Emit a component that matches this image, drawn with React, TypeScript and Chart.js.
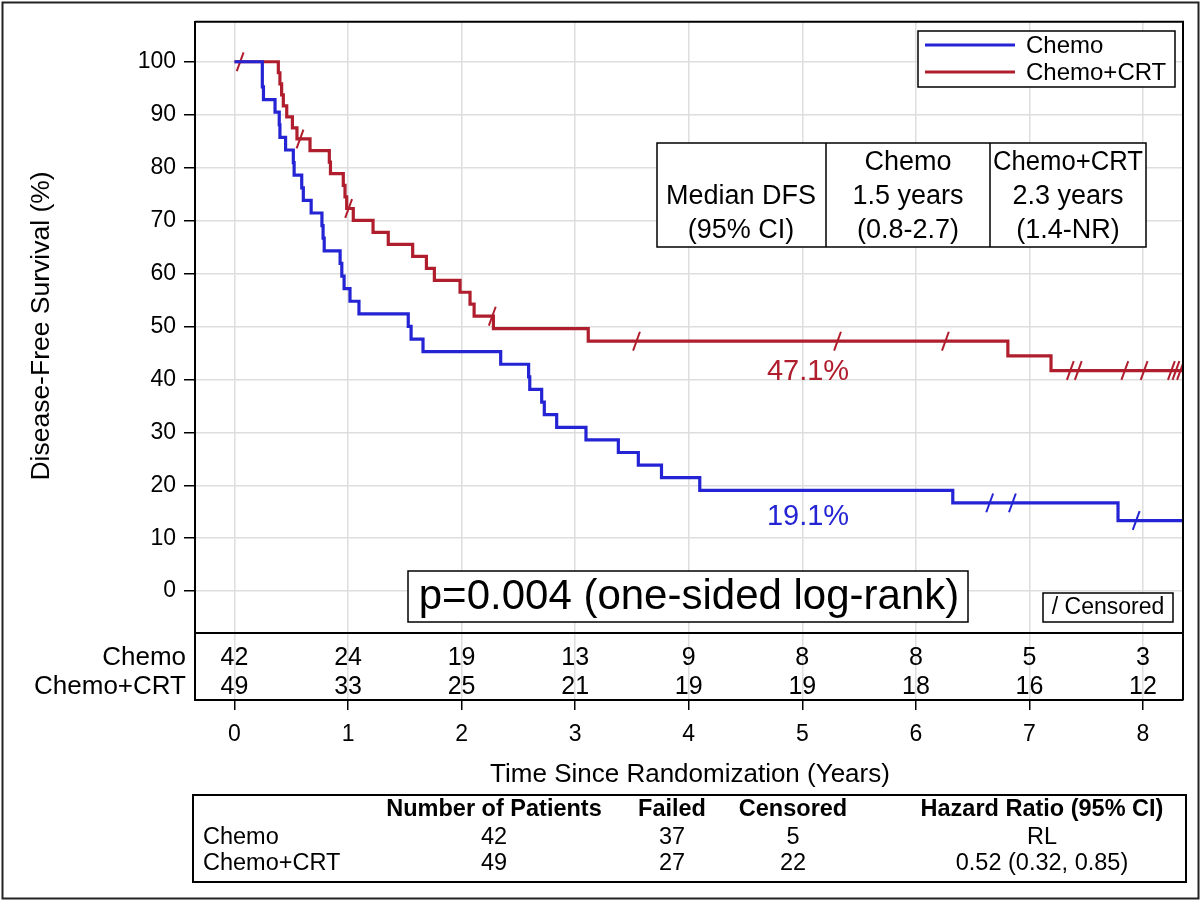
import React, { useEffect, useRef } from "react";
import { Chart, registerables } from "chart.js";

Chart.register(...registerables);

const FONT = "'Liberation Sans', Arial, Helvetica, sans-serif";
const BLUE = "#2424d4";
const RED = "#b01e2e";

// ---- Kaplan-Meier step data (time in years, survival %) ----
const chemoTimes = [0, 0.245, 0.255, 0.357, 0.394, 0.4, 0.45, 0.518, 0.525, 0.592, 0.606, 0.675, 0.77, 0.78, 0.79, 0.93, 0.945, 0.965, 1.017, 1.096, 1.53, 1.555, 1.66, 2.344, 2.59, 2.6, 2.705, 2.728, 2.837, 3.095, 3.38, 3.556, 3.76, 4.097, 6.325, 7.78, 8.35];
const chemoSurv = [100, 95.24, 92.86, 90.48, 88.1, 85.71, 83.33, 80.95, 78.57, 76.19, 73.81, 71.43, 69.05, 66.67, 64.29, 61.9, 59.52, 57.14, 54.76, 52.38, 50.0, 47.62, 45.24, 42.86, 40.48, 38.1, 35.71, 33.33, 30.95, 28.57, 26.19, 23.81, 21.43, 19.05, 16.67, 13.33, 13.33];
const chemoCensor = [6.65, 6.85, 7.94];

const crtTimes = [0, 0.386, 0.4, 0.415, 0.43, 0.46, 0.51, 0.55, 0.665, 0.835, 0.845, 0.958, 0.973, 0.988, 1.046, 1.22, 1.354, 1.569, 1.69, 1.76, 1.986, 2.074, 2.11, 2.28, 3.115, 6.81, 7.19, 8.35];
const crtSurv = [100, 97.92, 95.83, 93.75, 91.67, 89.58, 87.5, 85.42, 83.23, 81.04, 78.85, 76.66, 74.47, 72.28, 70.02, 67.76, 65.5, 63.24, 60.98, 58.72, 56.46, 54.2, 51.94, 49.58, 47.22, 44.44, 41.67, 41.67];
const crtCensor = [0.05, 0.577, 1.005, 2.27, 3.54, 5.31, 6.26, 7.36, 7.43, 7.84, 8.01, 8.25, 8.29, 8.33];

// ---- axes ----
const xTicks = [0, 1, 2, 3, 4, 5, 6, 7, 8];
const yTicks = [0, 10, 20, 30, 40, 50, 60, 70, 80, 90, 100];

// ---- number at risk ----
const riskTimes = [0, 1, 2, 3, 4, 5, 6, 7, 8];
const chemoRisk = [42, 24, 19, 13, 9, 8, 8, 5, 3];
const crtRisk = [49, 33, 25, 21, 19, 19, 18, 16, 12];
const groupNames = ["Chemo", "Chemo+CRT"];

// ---- median DFS table ----
const medianHeader = ["", "Chemo", "Chemo+CRT"];
const medianRow1 = ["Median DFS", "1.5 years", "2.3 years"];
const medianRow2 = ["(95% CI)", "(0.8-2.7)", "(1.4-NR)"];

// ---- labels ----
const endLabels = ["19.1%", "47.1%"];
const pText = "p=0.004 (one-sided log-rank)";
const censorText = "/ Censored";
const yTitle = "Disease-Free Survival (%)";
const xTitle = "Time Since Randomization (Years)";

// ---- summary table ----
const summaryHeader = ["", "Number of Patients", "Failed", "Censored", "Hazard Ratio (95% CI)"];
const summaryChemo = ["Chemo", "42", "37", "5", "RL"];
const summaryCrt = ["Chemo+CRT", "49", "27", "22", "0.52 (0.32, 0.85)"];

function survAt(times: number[], surv: number[], t: number) {
  let s = surv[0];
  for (let i = 0; i < times.length; i++) {
    if (times[i] <= t) s = surv[i];
    else break;
  }
  return s;
}

function text(
  ctx: CanvasRenderingContext2D,
  s: string,
  x: number,
  y: number,
  size: number,
  align: CanvasTextAlign = "center",
  color = "#000",
  bold = false,
  maxWidth?: number
) {
  ctx.font = `${bold ? "bold " : ""}${size}px ${FONT}`;
  ctx.fillStyle = color;
  ctx.textAlign = align;
  ctx.textBaseline = "middle";
  if (maxWidth) ctx.fillText(s, x, y, maxWidth);
  else ctx.fillText(s, x, y);
}

function box(ctx: CanvasRenderingContext2D, x0: number, y0: number, x1: number, y1: number, lw = 1.5) {
  ctx.fillStyle = "#fff";
  ctx.fillRect(x0, y0, x1 - x0, y1 - y0);
  ctx.strokeStyle = "#000";
  ctx.lineWidth = lw;
  ctx.strokeRect(x0, y0, x1 - x0, y1 - y0);
}

const overlayPlugin = {
  id: "overlay",
  afterDraw(chart: any) {
    const { ctx, chartArea: ca, scales } = chart;
    const xs = scales.x;
    ctx.save();

    // top/right frame
    ctx.strokeStyle = "#000";
    ctx.lineWidth = 2;
    ctx.beginPath();
    ctx.moveTo(ca.left, ca.top);
    ctx.lineTo(ca.right, ca.top);
    ctx.lineTo(ca.right, ca.bottom);
    ctx.stroke();

    // risk table separator
    ctx.beginPath();
    ctx.moveTo(ca.left, 633);
    ctx.lineTo(ca.right, 633);
    ctx.stroke();

    // number at risk
    text(ctx, groupNames[0], 186, 658, 26, "right");
    text(ctx, groupNames[1], 186, 687, 26, "right");
    riskTimes.forEach((t, i) => {
      const px = xs.getPixelForValue(t);
      text(ctx, String(chemoRisk[i]), px, 658, 25);
      text(ctx, String(crtRisk[i]), px, 687, 25);
    });

    // legend
    box(ctx, 918, 31, 1175, 87, 1.5);
    ctx.lineWidth = 3;
    ctx.strokeStyle = BLUE;
    ctx.beginPath();
    ctx.moveTo(925, 45);
    ctx.lineTo(1015, 45);
    ctx.stroke();
    ctx.strokeStyle = RED;
    ctx.beginPath();
    ctx.moveTo(925, 72);
    ctx.lineTo(1015, 72);
    ctx.stroke();
    text(ctx, groupNames[0], 1026, 46, 24, "left");
    text(ctx, groupNames[1], 1026, 73, 24, "left");

    // median table
    box(ctx, 657, 143, 1146, 247, 1.5);
    ctx.beginPath();
    ctx.moveTo(826, 143);
    ctx.lineTo(826, 247);
    ctx.moveTo(990, 143);
    ctx.lineTo(990, 247);
    ctx.stroke();
    const colC = [741, 908, 1068];
    const colW = [164, 158, 150];
    medianHeader.forEach((s, i) => s && text(ctx, s, colC[i], 163, 27, "center", "#000", false, colW[i]));
    medianRow1.forEach((s, i) => text(ctx, s, colC[i], 197, 27, "center", "#000", false, colW[i]));
    medianRow2.forEach((s, i) => text(ctx, s, colC[i], 231, 27, "center", "#000", false, colW[i]));

    // end labels
    text(ctx, endLabels[1], 808, 372, 29, "center", RED);
    text(ctx, endLabels[0], 808, 517, 29, "center", BLUE);

    // p-value box
    box(ctx, 408, 571, 968, 622, 1.5);
    text(ctx, pText, 689, 597, 42);

    // censored box
    box(ctx, 1043, 593, 1173, 622, 1.5);
    text(ctx, censorText, 1108, 608, 23);

    // axis titles
    ctx.save();
    ctx.translate(42, 326);
    ctx.rotate(-Math.PI / 2);
    text(ctx, yTitle, 0, 0, 26.5);
    ctx.restore();
    text(ctx, xTitle, 690, 775, 26);

    // summary table
    box(ctx, 193, 795, 1186, 882, 2);
    const sc = [203, 494, 672, 793, 1042];
    summaryHeader.forEach((s, i) => s && text(ctx, s, sc[i], 810, 23.5, "center", "#000", true));
    summaryChemo.forEach((s, i) => text(ctx, s, sc[i], 838, 23.5, i === 0 ? "left" : "center"));
    summaryCrt.forEach((s, i) => text(ctx, s, sc[i], 864, 23.5, i === 0 ? "left" : "center"));

    // outer border
    ctx.strokeStyle = "#222";
    ctx.lineWidth = 2;
    ctx.strokeRect(2.5, 2.5, 1196, 896);

    ctx.restore();
  },
};

export default function App() {
  const ref = useRef<HTMLCanvasElement | null>(null);
  useEffect(() => {
    if (!ref.current) return;
    Chart.defaults.font.family = FONT;
    const chemoPts = chemoTimes.map((t, i) => ({ x: t, y: chemoSurv[i] }));
    const crtPts = crtTimes.map((t, i) => ({ x: t, y: crtSurv[i] }));
    const chemoCens = chemoCensor.map((t) => ({ x: t, y: survAt(chemoTimes, chemoSurv, t) }));
    const crtCens = crtCensor.map((t) => ({ x: t, y: survAt(crtTimes, crtSurv, t) }));
    const censorStyle = {
      showLine: false,
      pointStyle: "line" as const,
      pointRotation: -70,
      pointRadius: 10,
      pointHoverRadius: 10,
      pointBorderWidth: 2,
    };
    const chart = new Chart(ref.current, {
      type: "line",
      data: {
        datasets: [
          { label: "Chemo", data: chemoPts, borderColor: BLUE, borderWidth: 3.2, stepped: true, pointRadius: 0, fill: false },
          { label: "Chemo+CRT", data: crtPts, borderColor: RED, borderWidth: 3.2, stepped: true, pointRadius: 0, fill: false },
          { label: "Chemo censored", data: chemoCens, borderColor: BLUE, pointBorderColor: BLUE, ...censorStyle },
          { label: "Chemo+CRT censored", data: crtCens, borderColor: RED, pointBorderColor: RED, ...censorStyle },
        ],
      },
      options: {
        responsive: false,
        animation: false,
        devicePixelRatio: 1,
        layout: { padding: { top: 21, right: 20, left: 0, bottom: 0 } },
        plugins: { legend: { display: false }, tooltip: { enabled: false } },
        scales: {
          x: {
            type: "linear",
            min: -0.3478,
            max: 8.3522,
            afterBuildTicks: (axis: any) => {
              axis.ticks = xTicks.map((v) => ({ value: v }));
            },
            afterFit: (scale: any) => {
              scale.height = 202;
            },
            ticks: { font: { size: 23 }, color: "#000", padding: 11, maxRotation: 0 },
            grid: { color: "#dedede", lineWidth: 1.5, tickLength: 10, tickColor: "#000", tickWidth: 1.5 },
            border: { display: true, color: "#000", width: 2 },
          },
          y: {
            type: "linear",
            min: -20.566,
            max: 107.547,
            afterBuildTicks: (axis: any) => {
              axis.ticks = yTicks.map((v) => ({ value: v }));
            },
            afterFit: (scale: any) => {
              scale.width = 195;
            },
            ticks: { font: { size: 23 }, color: "#000", padding: 8 },
            grid: { color: "#dedede", lineWidth: 1.5, tickLength: 11, tickColor: "#000", tickWidth: 1.5 },
            border: { display: true, color: "#000", width: 2 },
          },
        },
      },
      plugins: [overlayPlugin],
    });
    return () => chart.destroy();
  }, []);
  return (
    <div style={{ position: "absolute", left: 0, top: 0, width: 1203, height: 902, background: "#fff" }}>
      <canvas ref={ref} width={1203} height={902} style={{ display: "block" }} />
    </div>
  );
}
